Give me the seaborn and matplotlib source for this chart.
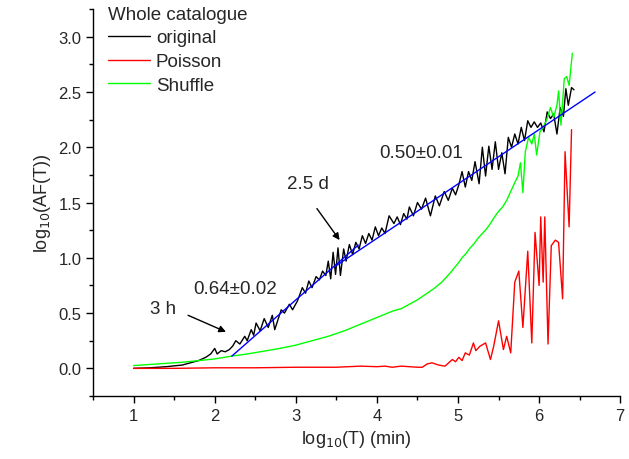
import numpy as np
import pandas as pd
import matplotlib
matplotlib.use("Agg")
import matplotlib.pyplot as plt
from matplotlib.ticker import MultipleLocator
import seaborn as sns

# values
orig_x = [1.0, 1.2, 1.4, 1.6, 1.8, 1.89, 1.95, 2.0, 2.03, 2.08,
          2.13, 2.18, 2.22, 2.26, 2.31, 2.37, 2.40, 2.45, 2.48, 2.51,
          2.56, 2.61, 2.66, 2.71, 2.74, 2.82, 2.86, 2.92, 2.96, 3.02,
          3.08, 3.12, 3.16, 3.20, 3.25, 3.29, 3.33, 3.37, 3.40, 3.43,
          3.46, 3.49, 3.52, 3.55, 3.59, 3.62, 3.66, 3.70, 3.74, 3.78,
          3.82, 3.86, 3.90, 3.94, 3.98, 4.02, 4.06, 4.10, 4.15, 4.21,
          4.25, 4.29, 4.33, 4.37, 4.40, 4.45, 4.50, 4.55, 4.60, 4.66,
          4.72, 4.77, 4.83, 4.88, 4.93, 4.97, 5.01, 5.05, 5.09, 5.13,
          5.17, 5.21, 5.26, 5.30, 5.34, 5.38, 5.42, 5.46, 5.50, 5.54,
          5.58, 5.62, 5.66, 5.70, 5.74, 5.78, 5.82, 5.86, 5.90, 5.94,
          5.98, 6.02, 6.06, 6.10, 6.14, 6.18, 6.22, 6.26, 6.30, 6.33,
          6.36, 6.40, 6.43]
orig_y = [0.0, 0.005, 0.015, 0.03, 0.07, 0.10, 0.13, 0.18, 0.13, 0.16,
          0.15, 0.17, 0.20, 0.25, 0.22, 0.29, 0.25, 0.35, 0.30, 0.41,
          0.34, 0.45, 0.37, 0.48, 0.35, 0.53, 0.50, 0.58, 0.53, 0.61,
          0.73, 0.68, 0.79, 0.73, 0.83, 0.80, 0.88, 0.84, 0.97, 0.81,
          1.05, 0.85, 1.09, 0.84, 1.08, 0.97, 1.12, 1.03, 1.14, 1.08,
          1.20, 1.13, 1.22, 1.16, 1.28, 1.20, 1.27, 1.22, 1.38, 1.31,
          1.37, 1.30, 1.40, 1.35, 1.46, 1.38, 1.50, 1.44, 1.54, 1.38,
          1.56, 1.47, 1.60, 1.52, 1.63, 1.57, 1.66, 1.78, 1.64, 1.78,
          1.70, 1.87, 1.67, 2.00, 1.74, 2.01, 1.80, 2.05, 1.80, 1.95,
          1.76, 2.09, 2.00, 2.12, 2.03, 2.18, 2.06, 2.24, 2.18, 2.23,
          2.18, 2.22, 2.14, 2.32, 2.26, 2.30, 2.12, 2.36, 2.28, 2.53,
          2.38, 2.54, 2.52]

poisson_x = [1.0, 1.5, 2.0, 2.5, 3.0, 3.5, 3.8, 4.0, 4.1, 4.19,
             4.3, 4.4, 4.5, 4.56, 4.62, 4.68, 4.76, 4.84, 4.93, 4.97,
             5.01, 5.05, 5.09, 5.14, 5.19, 5.22, 5.27, 5.34, 5.40, 5.44,
             5.50, 5.56, 5.60, 5.65, 5.70, 5.75, 5.80, 5.86, 5.91, 5.95,
             6.00, 6.02, 6.05, 6.07, 6.11, 6.15, 6.20, 6.24, 6.29, 6.32,
             6.37, 6.40]
poisson_y = [0.0, 0.0, 0.005, 0.005, 0.01, 0.01, 0.02, 0.015, 0.02, 0.01,
             0.02, 0.015, 0.01, 0.01, 0.04, 0.05, 0.03, 0.02, 0.08, 0.06,
             0.10, 0.07, 0.14, 0.12, 0.23, 0.16, 0.20, 0.23, 0.08, 0.20,
             0.43, 0.17, 0.29, 0.14, 0.78, 0.88, 0.37, 1.06, 0.23, 1.23,
             0.75, 1.37, 0.78, 1.37, 0.22, 1.11, 1.16, 1.14, 0.63, 1.96,
             1.28, 2.16]

shuffle_x = [1.0, 1.2, 1.4, 1.6, 1.8, 2.0, 2.2, 2.4, 2.6, 2.8,
             3.0, 3.2, 3.4, 3.6, 3.8, 3.9, 4.0, 4.1, 4.2, 4.3,
             4.4, 4.5, 4.6, 4.7, 4.8, 4.9, 5.0, 5.05, 5.1, 5.15,
             5.2, 5.25, 5.3, 5.35, 5.4, 5.45, 5.5, 5.55, 5.6, 5.65,
             5.7, 5.74, 5.77, 5.80, 5.83, 5.87, 5.91, 5.94, 5.97, 6.01,
             6.05, 6.10, 6.14, 6.18, 6.22, 6.24, 6.27, 6.31, 6.34, 6.37,
             6.41]
shuffle_y = [0.025, 0.035, 0.045, 0.055, 0.07, 0.085, 0.11, 0.13, 0.155, 0.18,
             0.21, 0.25, 0.29, 0.34, 0.40, 0.43, 0.46, 0.49, 0.52, 0.54,
             0.58, 0.62, 0.67, 0.72, 0.78, 0.86, 0.95, 1.00, 1.04, 1.09,
             1.13, 1.18, 1.22, 1.26, 1.31, 1.37, 1.42, 1.46, 1.52, 1.60,
             1.68, 1.74, 1.86, 1.59, 1.96, 2.09, 2.03, 2.12, 1.93, 2.14,
             2.18, 2.26, 2.36, 2.27, 2.38, 2.51, 2.20, 2.62, 2.64, 2.56,
             2.85]

# two power-law fits
fit1_x = [2.21, 3.77]
fit1_y = [0.11, 1.115]
fit2_x = [3.50, 6.69]
fit2_y = [0.93, 2.50]

sns.set_style("ticks")
plt.rcParams['font.family'] = ['Liberation Sans', 'DejaVu Sans']

fig, ax = plt.subplots(figsize=(6.29, 4.60), dpi=100)
fig.subplots_adjust(left=0.148, right=0.986, top=0.978, bottom=0.137)

sns.lineplot(x=orig_x, y=orig_y, color='black', lw=1, label='original', ax=ax)
sns.lineplot(x=poisson_x, y=poisson_y, color='#ff0000', lw=1, label='Poisson', ax=ax)
sns.lineplot(x=shuffle_x, y=shuffle_y, color='#00ff00', lw=1, label='Shuffle', ax=ax)
sns.lineplot(x=fit1_x, y=fit1_y, color='#0000ff', lw=1, legend=False, ax=ax)
sns.lineplot(x=fit2_x, y=fit2_y, color='#0000ff', lw=1, legend=False, ax=ax)

ax.set_xlim(0.5, 7)
ax.set_ylim(-0.25, 3.25)
ax.xaxis.set_minor_locator(MultipleLocator(0.5))
ax.yaxis.set_minor_locator(MultipleLocator(0.25))
ax.set_xticks([1, 2, 3, 4, 5, 6, 7])
ax.set_yticks([0.0, 0.5, 1.0, 1.5, 2.0, 2.5, 3.0])
ax.set_yticklabels(['0.0', '0.5', '1.0', '1.5', '2.0', '2.5', '3.0'])
ax.tick_params(which='major', direction='out', length=5, width=1, labelsize=12, color='black')
ax.tick_params(which='minor', direction='out', length=3, width=1, color='black')
for s in ['left', 'bottom']:
    ax.spines[s].set_linewidth(1)
    ax.spines[s].set_color('black')
sns.despine(ax=ax)

ax.set_xlabel('log$_{10}$(T) (min)', fontsize=13)
ax.set_ylabel('log$_{10}$(AF(T))', fontsize=13)

leg = ax.legend(title='Whole catalogue', loc='upper left', frameon=False,
                fontsize=13.5, title_fontsize=13.5, alignment='left',
                handlelength=2.24, handletextpad=0.32, labelspacing=0.35,
                borderaxespad=0, bbox_to_anchor=(0.014, 1.028))

# annotations
ax.text(1.2, 0.545, '3 h', fontsize=13.5, va='center')
ax.annotate('', xy=(2.17, 0.32), xytext=(1.64, 0.49),
            arrowprops=dict(arrowstyle='-|>', color='black', lw=1, mutation_scale=10))
ax.text(1.73, 0.725, '0.64±0.02', fontsize=13.5, va='center')
ax.text(2.89, 1.67, '2.5 d', fontsize=13.5, va='center')
ax.annotate('', xy=(3.56, 1.14), xytext=(3.24, 1.466),
            arrowprops=dict(arrowstyle='-|>', color='black', lw=1, mutation_scale=10))
ax.text(4.03, 1.95, '0.50±0.01', fontsize=13.5, va='center')

fig.savefig('out.png', dpi=100)
